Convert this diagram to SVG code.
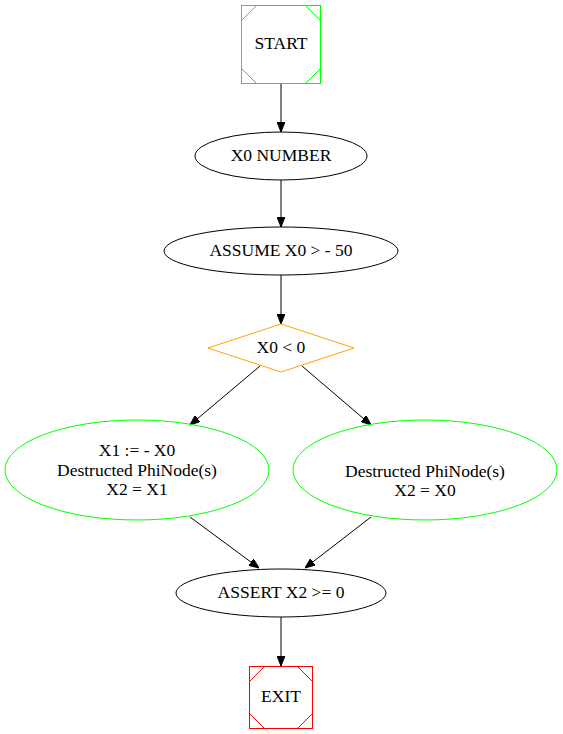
<svg xmlns="http://www.w3.org/2000/svg" width="563" height="734" viewBox="0 0 563 734">
<defs>
<marker id="arr" markerWidth="10" markerHeight="8" refX="10" refY="4" orient="auto" markerUnits="userSpaceOnUse">
<path d="M0,0 L10,4 L0,8 Z" fill="#000" stroke="#000"/>
</marker>
<style>
.n{fill:none;stroke:#000;stroke-width:1}
.g{fill:none;stroke:#00ff00;stroke-width:1}
.r{fill:none;stroke:#ff0000;stroke-width:1}
.o{fill:none;stroke:#ffa500;stroke-width:1}
.e{fill:none;stroke:#000;stroke-width:1;marker-end:url(#arr)}
</style>
</defs>
<rect width="563" height="734" fill="#fff"/>
<g id="edges">
<path class="e" d="M281,84 L281,132"/>
<path class="e" d="M281,180 L281,227"/>
<path class="e" d="M281,275 L281,324"/>
<path class="e" d="M260,366 L190,425"/>
<path class="e" d="M302,366 L371,425"/>
<path class="e" d="M190,517 L259,568"/>
<path class="e" d="M371,517 L305,568"/>
<path class="e" d="M281,617 L281,666"/>
</g>
<g font-family="'Liberation Serif', 'Times New Roman', 'DejaVu Serif', serif" font-size="17.5" text-anchor="middle" fill="#000">
<g id="start">
<rect class="g" x="241.5" y="5.5" width="79" height="78"/>
<path class="g" d="M241.5,20.5 L256.5,5.5 M305.5,5.5 L320.5,20.5 M320.5,68.5 L305.5,83.5 M256.5,83.5 L241.5,68.5"/>
<text x="281" y="49">START</text>
</g>
<g id="x0number">
<ellipse class="n" cx="281" cy="156" rx="86" ry="24"/>
<text x="281" y="161">X0 NUMBER</text>
</g>
<g id="assume">
<ellipse class="n" cx="281" cy="251" rx="117" ry="24"/>
<text x="281" y="256">ASSUME X0 &gt; - 50</text>
</g>
<g id="cond">
<path class="o" d="M281,324 L354,348 L281,372 L208,348 Z"/>
<text x="281" y="353">X0 &lt; 0</text>
</g>
<g id="left">
<ellipse class="g" cx="137" cy="470" rx="132" ry="50"/>
<text x="137" y="456">X1 := - X0</text>
<text x="137" y="476">Destructed PhiNode(s)</text>
<text x="137" y="495">X2 = X1</text>
</g>
<g id="right">
<ellipse class="g" cx="425" cy="470" rx="132" ry="50"/>
<text x="425" y="477">Destructed PhiNode(s)</text>
<text x="425" y="496">X2 = X0</text>
</g>
<g id="assert">
<ellipse class="n" cx="281" cy="593" rx="105" ry="24"/>
<text x="281" y="598">ASSERT X2 &gt;= 0</text>
</g>
<g id="exit">
<rect class="r" x="249.5" y="666.5" width="63" height="62"/>
<path class="r" d="M249.5,681.5 L264.5,666.5 M297.5,666.5 L312.5,681.5 M312.5,713.5 L297.5,728.5 M264.5,728.5 L249.5,713.5"/>
<text x="281" y="702">EXIT</text>
</g>
</g>
</svg>
